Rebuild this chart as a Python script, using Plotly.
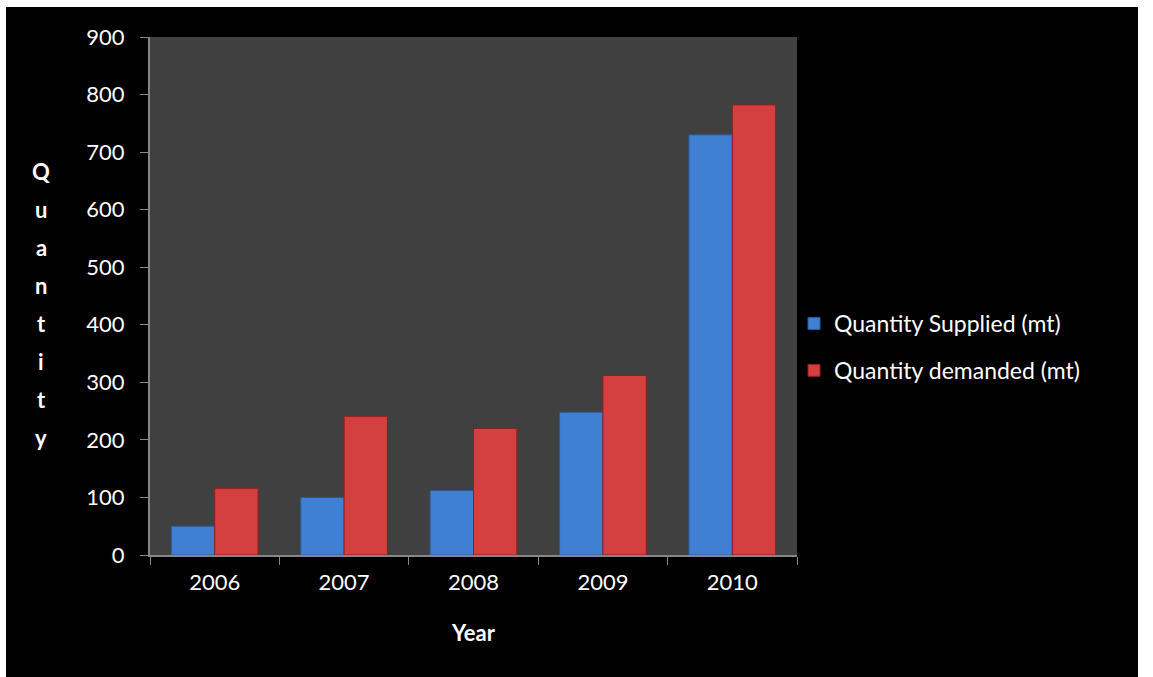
import plotly.graph_objects as go

years = ["2006", "2007", "2008", "2009", "2010"]
supplied = [50, 100, 112, 248, 730]
demanded = [116, 241, 220, 312, 782]
series_names = ["Quantity Supplied (mt)", "Quantity demanded (mt)"]
y_title_letters = list("Quantity")

W, H = 1153, 677
L, R, T, B = 150, 356, 37, 122
plot_w = W - L - R
plot_h = H - T - B

FONT = "Lato"

fig = go.Figure()
fig.add_trace(go.Bar(
    x=years, y=supplied, name=series_names[0], legendgroup="a",
    marker=dict(color="#3F80D2", line=dict(color="#2A5A9A", width=1)),
))
fig.add_trace(go.Bar(
    x=years, y=demanded, name=series_names[1], legendgroup="b",
    marker=dict(color="#D43F3F", line=dict(color="#8E1F1F", width=1)),
))

def px_to_paper_x(px):
    return (px - L) / plot_w

def px_to_paper_y(py):
    return (H - B - py) / plot_h

# stacked vertical axis title, one letter per line
annotations = []
top_px, step_px = 171, 38.1
for i, ch in enumerate(y_title_letters):
    annotations.append(dict(
        text=f"<b>{ch}</b>", x=px_to_paper_x(41), y=px_to_paper_y(top_px + i * step_px),
        xref="paper", yref="paper", showarrow=False,
        font=dict(family=FONT, size=22, color="white"),
        xanchor="center", yanchor="middle",
    ))
annotations.append(dict(
    text="<b>Year</b>", x=0.5, y=px_to_paper_y(632), xref="paper", yref="paper",
    showarrow=False, font=dict(family=FONT, size=22, color="white"),
    xanchor="center", yanchor="middle",
))

# white frame around the black page
shapes = []
frame = [
    (0, 0, W, 7),
    (0, 0, 6, H),
    (1138, 0, W, H),
]
for x0, y0, x1, y1 in frame:
    shapes.append(dict(
        type="rect", xref="paper", yref="paper",
        x0=px_to_paper_x(x0), x1=px_to_paper_x(x1),
        y0=px_to_paper_y(y1), y1=px_to_paper_y(y0),
        fillcolor="white", line=dict(width=0), layer="above",
    ))

fig.update_layout(
    width=W, height=H,
    margin=dict(l=L, r=R, t=T, b=B, autoexpand=False),
    paper_bgcolor="black",
    plot_bgcolor="#404040",
    barmode="group",
    bargap=0.33,
    bargroupgap=0,
    font=dict(family=FONT, size=22, color="white"),
    showlegend=True,
    legend=dict(
        x=px_to_paper_x(794), y=px_to_paper_y(347), xanchor="left", yanchor="middle",
        xref="paper", yref="paper",
        font=dict(family=FONT, size=23, color="white"),
        bgcolor="rgba(0,0,0,0)", traceorder="grouped", tracegroupgap=14,
        itemwidth=30,
    ),
    annotations=annotations,
    shapes=shapes,
    xaxis=dict(
        showgrid=False, showline=True, linecolor="#868686", linewidth=2,
        ticks="outside", ticklen=8, tickcolor="#868686", tickwidth=1,
        tickson="boundaries",
        tickfont=dict(family=FONT, size=22, color="white"),
        ticklabelstandoff=7,
    ),
    yaxis=dict(
        range=[0, 900], dtick=100, showgrid=False, zeroline=False,
        showline=True, linecolor="#868686", linewidth=2,
        ticks="outside", ticklen=8, tickcolor="#868686", tickwidth=1,
        tickfont=dict(family=FONT, size=22, color="white"),
        ticklabelstandoff=11,
    ),
)

fig.write_html("out.html")
